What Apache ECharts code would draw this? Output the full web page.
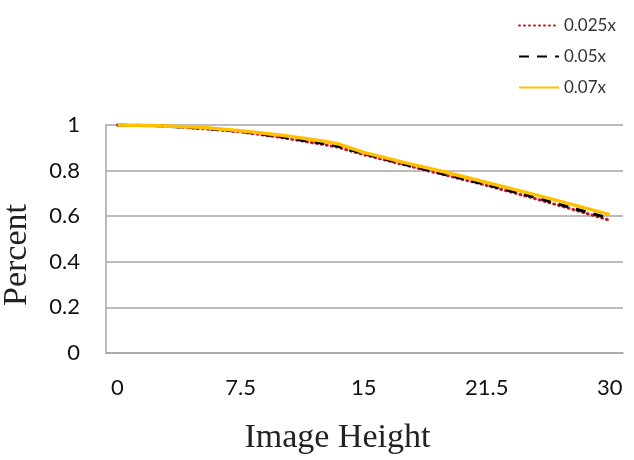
<!DOCTYPE html>
<html lang="en">
<head>
    <meta charset="UTF-8">
    <title>Percent vs Image Height</title>
    <script src="https://cdn.jsdelivr.net/npm/echarts/dist/echarts.min.js"></script>
    <style>
        body { margin: 0; background: #fff; }
    </style>
</head>
<body>
    <div id="main" style="width: 634px;height:460px;"></div>
    <script>
        // image height positions
        const heights = [0, 2.5, 5, 7.5, 10, 12.5, 13.4, 15, 17.5, 20, 22.5, 25.3, 27.5, 30];
        const pct025 = [1.0, 0.997, 0.985, 0.97, 0.945, 0.915, 0.903, 0.87, 0.825, 0.78, 0.735, 0.68, 0.635, 0.582];
        const pct05 = [1.0, 0.997, 0.987, 0.972, 0.948, 0.92, 0.908, 0.875, 0.828, 0.783, 0.738, 0.686, 0.64, 0.59];
        const pct07 = [1.0, 0.997, 0.99, 0.975, 0.955, 0.93, 0.918, 0.88, 0.835, 0.793, 0.748, 0.697, 0.655, 0.607];

        const tickValues = [0, 7.5, 15, 22.5, 30];
        const tickLabels = ['0', '7.5', '15', '21.5', '30'];
        const seriesNames = ['0.025x', '0.05x', '0.07x'];

        function pairs(ys) {
            return heights.map((h, i) => [h, ys[i]]);
        }

        var chart = echarts.init(document.getElementById('main'));
        var option = {
            animation: false,
            textStyle: { fontFamily: 'Lato' },
            legend: {
                orient: 'vertical',
                left: 513,
                top: 12,
                itemWidth: 40,
                itemHeight: 14,
                itemGap: 14,
                data: seriesNames,
                itemStyle: { opacity: 0 },
                textStyle: { fontSize: 17, color: '#333', fontFamily: 'Lato' }
            },
            grid: {
                left: 106,
                right: 11,
                top: 125,
                bottom: 107,
                outerBoundsMode: 'none'
            },
            xAxis: {
                type: 'value',
                min: -0.7,
                max: 30.8,
                name: 'Image Height',
                nameLocation: 'middle',
                nameGap: 68,
                nameTextStyle: {
                    fontFamily: 'Liberation Serif', fontSize: 34, color: '#222',
                    padding: [0, 54, 0, 0]
                },
                axisLine: { show: true, lineStyle: { color: '#a6a6a6', width: 1.5 } },
                axisTick: { show: false },
                splitLine: { show: false },
                axisLabel: {
                    customValues: tickValues,
                    formatter: v => tickLabels[tickValues.indexOf(v)],
                    margin: 24,
                    fontSize: 22,
                    color: '#111'
                }
            },
            yAxis: {
                type: 'value',
                min: 0,
                max: 1,
                interval: 0.2,
                name: 'Percent',
                nameLocation: 'middle',
                nameGap: 72,
                nameTextStyle: {
                    fontFamily: 'Liberation Serif', fontSize: 34, color: '#222',
                    padding: [0, 32, 0, 0]
                },
                axisLine: { show: true, onZero: false, lineStyle: { color: '#a6a6a6', width: 1.5 } },
                axisTick: { show: false },
                splitLine: { lineStyle: { color: '#a6a6a6', width: 1.5 } },
                axisLabel: {
                    margin: 26,
                    fontSize: 22,
                    color: '#111',
                    formatter: v => String(Math.round(v * 10) / 10)
                }
            },
            series: [
                {
                    name: seriesNames[0],
                    type: 'line',
                    data: pairs(pct025),
                    symbol: 'none',
                    lineStyle: { color: '#c0182a', width: 3, type: [1, 4], cap: 'round' },
                    itemStyle: { color: '#c0182a' }
                },
                {
                    name: seriesNames[1],
                    type: 'line',
                    data: pairs(pct05),
                    symbol: 'none',
                    lineStyle: { color: '#000', width: 3, type: [10, 8] },
                    itemStyle: { color: '#000' }
                },
                {
                    name: seriesNames[2],
                    type: 'line',
                    data: pairs(pct07),
                    symbol: 'none',
                    lineStyle: { color: '#ffc000', width: 3.5 },
                    itemStyle: { color: '#ffc000' }
                }
            ]
        };

        chart.setOption(option);
    </script>
</body>
</html>
